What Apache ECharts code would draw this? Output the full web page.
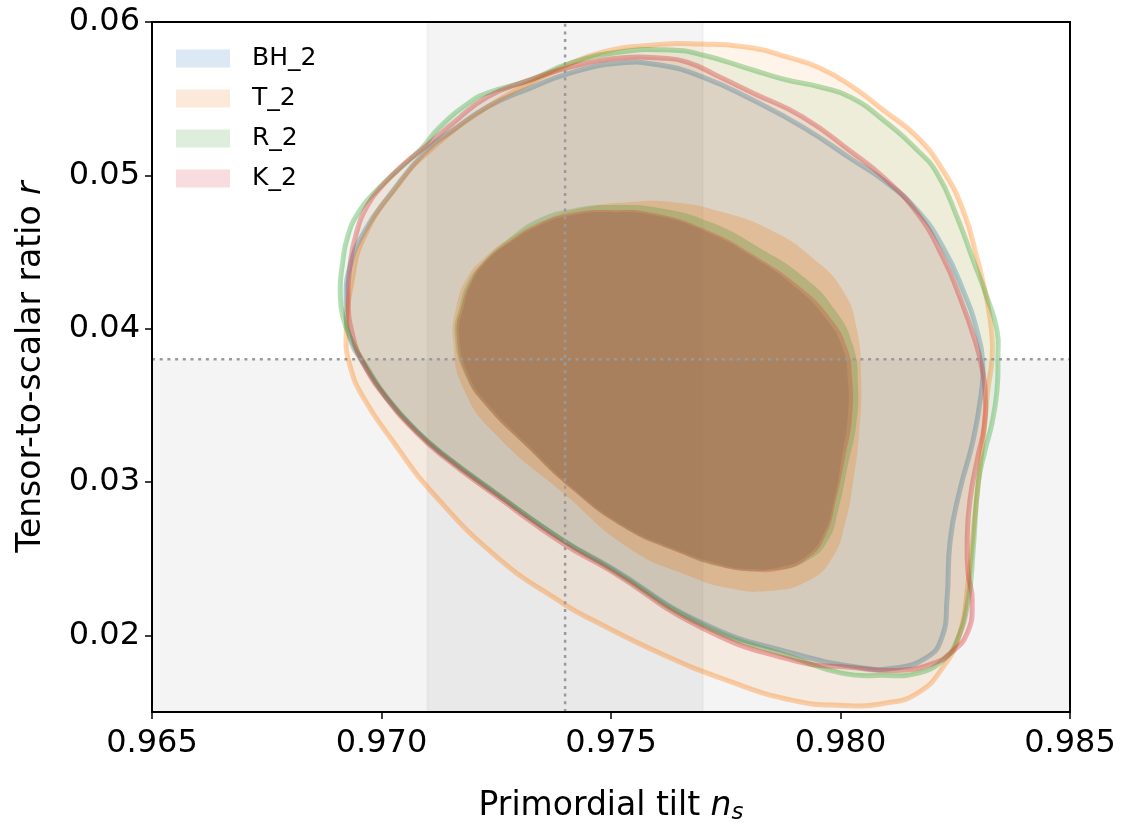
<!DOCTYPE html>
<html>
<head>
<meta charset="utf-8">
<script src="https://cdn.jsdelivr.net/npm/echarts@6/dist/echarts.min.js"></script>
<style>html,body{margin:0;padding:0;background:#fff}#c{width:1128px;height:828px}</style>
</head>
<body>
<div id="c"></div>
<script>
// ---- data ----
const xTicks = [0.965, 0.970, 0.975, 0.980, 0.985];
const yTicks = [0.02, 0.03, 0.04, 0.05, 0.06];
const models = ['BH_2', 'T_2', 'R_2', 'K_2'];
const refNs = 0.974;
const refR = 0.038;
const nsBand = [0.971, 0.977];
const rBand = [0.015, 0.038];

const bh2Outer = [[0.96923,0.04186],[0.96931,0.04401],[0.96962,0.04630],[0.97020,0.04880],[0.97099,0.05165],[0.97156,0.05295],[0.97230,0.05445],[0.97324,0.05569],[0.97411,0.05667],[0.97520,0.05732],[0.97607,0.05719],[0.97700,0.05641],[0.97809,0.05491],[0.97918,0.05315],[0.98027,0.05100],[0.98093,0.04969],[0.98167,0.04773],[0.98223,0.04532],[0.98267,0.04251],[0.98297,0.03990],[0.98310,0.03762],[0.98306,0.03566],[0.98289,0.03272],[0.98260,0.02946],[0.98239,0.02620],[0.98232,0.02228],[0.98221,0.01987],[0.98188,0.01856],[0.98114,0.01785],[0.98042,0.01791],[0.97896,0.01883],[0.97700,0.02078],[0.97498,0.02444],[0.97395,0.02620],[0.97252,0.02920],[0.97134,0.03181],[0.97077,0.03331],[0.97012,0.03547],[0.96960,0.03775],[0.96931,0.03945]];
const t2Outer = [[0.96923,0.03958],[0.96936,0.04316],[0.96964,0.04610],[0.97036,0.04936],[0.97106,0.05165],[0.97230,0.05445],[0.97324,0.05602],[0.97395,0.05706],[0.97483,0.05804],[0.97592,0.05850],[0.97700,0.05856],[0.97809,0.05830],[0.97883,0.05772],[0.97955,0.05700],[0.98027,0.05576],[0.98093,0.05426],[0.98167,0.05250],[0.98223,0.05034],[0.98267,0.04773],[0.98297,0.04467],[0.98319,0.04186],[0.98330,0.03958],[0.98330,0.03794],[0.98321,0.03599],[0.98315,0.03403],[0.98304,0.03096],[0.98289,0.02666],[0.98278,0.02339],[0.98260,0.02013],[0.98223,0.01791],[0.98167,0.01622],[0.98093,0.01556],[0.98005,0.01543],[0.97896,0.01576],[0.97753,0.01706],[0.97607,0.01883],[0.97461,0.02098],[0.97395,0.02209],[0.97252,0.02509],[0.97106,0.02946],[0.97034,0.03227],[0.96960,0.03553],[0.96931,0.03762]];
const r2Outer = [[0.96910,0.04251],[0.96914,0.04401],[0.96927,0.04610],[0.96953,0.04773],[0.96990,0.04904],[0.97036,0.05034],[0.97084,0.05165],[0.97127,0.05315],[0.97193,0.05478],[0.97230,0.05537],[0.97324,0.05622],[0.97411,0.05732],[0.97520,0.05804],[0.97629,0.05817],[0.97700,0.05785],[0.97809,0.05687],[0.97883,0.05622],[0.97955,0.05576],[0.98021,0.05511],[0.98093,0.05361],[0.98167,0.05165],[0.98210,0.05015],[0.98254,0.04728],[0.98289,0.04447],[0.98319,0.04206],[0.98341,0.03990],[0.98343,0.03814],[0.98341,0.03599],[0.98330,0.03383],[0.98315,0.03207],[0.98300,0.02992],[0.98289,0.02555],[0.98278,0.02228],[0.98254,0.01967],[0.98223,0.01837],[0.98167,0.01752],[0.98093,0.01739],[0.98005,0.01752],[0.97896,0.01856],[0.97700,0.02065],[0.97498,0.02437],[0.97395,0.02620],[0.97252,0.02920],[0.97134,0.03181],[0.97077,0.03331],[0.97012,0.03547],[0.96968,0.03749],[0.96938,0.03905],[0.96916,0.04075]];
const k2Outer = [[0.96927,0.04186],[0.96931,0.04401],[0.96944,0.04610],[0.96970,0.04806],[0.97007,0.04949],[0.97051,0.05080],[0.97095,0.05185],[0.97156,0.05341],[0.97230,0.05511],[0.97324,0.05622],[0.97411,0.05706],[0.97520,0.05765],[0.97607,0.05765],[0.97666,0.05739],[0.97737,0.05641],[0.97809,0.05537],[0.97918,0.05380],[0.98027,0.05145],[0.98093,0.04989],[0.98167,0.04754],[0.98223,0.04467],[0.98260,0.04206],[0.98293,0.03925],[0.98308,0.03749],[0.98315,0.03599],[0.98313,0.03360],[0.98300,0.03175],[0.98282,0.02881],[0.98276,0.02620],[0.98278,0.02405],[0.98287,0.02228],[0.98276,0.02013],[0.98239,0.01883],[0.98202,0.01817],[0.98130,0.01772],[0.98021,0.01791],[0.97896,0.01837],[0.97700,0.02046],[0.97498,0.02424],[0.97395,0.02600],[0.97252,0.02905],[0.97134,0.03168],[0.97077,0.03320],[0.97012,0.03540],[0.96960,0.03775],[0.96936,0.03971]];

const bh2Inner = [[0.97169,0.03958],[0.97180,0.04153],[0.97197,0.04303],[0.97225,0.04427],[0.97278,0.04558],[0.97345,0.04675],[0.97417,0.04741],[0.97504,0.04760],[0.97592,0.04741],[0.97705,0.04636],[0.97814,0.04460],[0.97905,0.04264],[0.97968,0.04068],[0.98005,0.03873],[0.98016,0.03677],[0.98016,0.03423],[0.98003,0.03162],[0.97986,0.02881],[0.97964,0.02666],[0.97925,0.02515],[0.97868,0.02444],[0.97803,0.02431],[0.97744,0.02457],[0.97635,0.02568],[0.97526,0.02718],[0.97417,0.02959],[0.97313,0.03259],[0.97234,0.03501],[0.97191,0.03690]];
const t2Inner = [[0.97156,0.03925],[0.97164,0.04153],[0.97186,0.04330],[0.97223,0.04460],[0.97280,0.04590],[0.97356,0.04710],[0.97443,0.04790],[0.97541,0.04825],[0.97635,0.04825],[0.97737,0.04765],[0.97850,0.04640],[0.97940,0.04460],[0.98005,0.04251],[0.98036,0.03990],[0.98045,0.03664],[0.98041,0.03338],[0.98028,0.03011],[0.98010,0.02730],[0.97982,0.02505],[0.97932,0.02360],[0.97846,0.02290],[0.97753,0.02310],[0.97672,0.02385],[0.97541,0.02565],[0.97395,0.02930],[0.97252,0.03300],[0.97180,0.03599]];
const r2Inner = [[0.97160,0.03958],[0.97171,0.04153],[0.97188,0.04303],[0.97221,0.04434],[0.97273,0.04577],[0.97345,0.04721],[0.97422,0.04786],[0.97504,0.04806],[0.97607,0.04786],[0.97716,0.04695],[0.97825,0.04525],[0.97923,0.04330],[0.97988,0.04121],[0.98027,0.03892],[0.98038,0.03631],[0.98034,0.03370],[0.98016,0.03109],[0.97995,0.02816],[0.97973,0.02620],[0.97929,0.02489],[0.97857,0.02424],[0.97744,0.02444],[0.97635,0.02555],[0.97526,0.02705],[0.97417,0.02946],[0.97308,0.03253],[0.97230,0.03488],[0.97182,0.03697]];
const k2Inner = [[0.97164,0.03958],[0.97175,0.04153],[0.97193,0.04303],[0.97221,0.04427],[0.97273,0.04558],[0.97345,0.04688],[0.97417,0.04754],[0.97504,0.04773],[0.97592,0.04754],[0.97709,0.04643],[0.97818,0.04467],[0.97912,0.04271],[0.97977,0.04075],[0.98014,0.03879],[0.98025,0.03684],[0.98025,0.03423],[0.98010,0.03162],[0.97990,0.02881],[0.97968,0.02653],[0.97929,0.02502],[0.97868,0.02424],[0.97803,0.02418],[0.97744,0.02444],[0.97635,0.02555],[0.97526,0.02705],[0.97417,0.02946],[0.97308,0.03253],[0.97230,0.03488],[0.97186,0.03684]];

const outers = [bh2Outer, t2Outer, r2Outer, k2Outer];
const inners = [bh2Inner, t2Inner, r2Inner, k2Inner];

// ---- styles ----
const baseRGB = [[31,119,180],[255,127,14],[44,160,44],[214,39,40]];
const legendColors = ['#dce9f4', '#fde9d9', '#deeedd', '#f8dcdf'];
const aOuterList = [0.075, 0.085, 0.08, 0.09];
const aInner = 0.25, aLine = 0.34;
const SMOOTH = 0.5;
const rgba = (c, a) => 'rgba(' + c[0] + ',' + c[1] + ',' + c[2] + ',' + a + ')';
const FONT = 'DejaVu Sans';

const chart = echarts.init(document.getElementById('c'), null, {renderer: 'canvas'});

const bandSeries = {
  type: 'custom', name: 'bands', coordinateSystem: 'cartesian2d', silent: true, z: 1,
  data: [[nsBand[0], nsBand[1], rBand[0], 0.06], [0.965, 0.985, rBand[0], rBand[1]]],
  renderItem: (p, api) => {
    const a = api.coord([api.value(0), api.value(3)]);
    const b = api.coord([api.value(1), api.value(2)]);
    return {type: 'rect', shape: {x: a[0], y: a[1], width: b[0] - a[0], height: b[1] - a[1]},
      style: {fill: 'rgba(0,0,0,0.045)', stroke: p.dataIndex === 0 ? 'rgba(0,0,0,0.035)' : null, lineWidth: 2}};
  }
};

const contourSeries = models.map((name, i) => ({
  type: 'custom', name, coordinateSystem: 'cartesian2d', silent: true, z: 2 + i,
  data: outers[i],
  renderItem: (p, api) => {
    if (p.dataIndex !== 0) return null;
    const o = outers[i].map(q => api.coord(q));
    const n = inners[i].map(q => api.coord(q));
    const c = baseRGB[i];
    return {type: 'group', children: [
      {type: 'polygon', shape: {points: o, smooth: SMOOTH}, style: {fill: rgba(c, aOuterList[i])}},
      {type: 'polygon', shape: {points: n, smooth: SMOOTH}, style: {fill: rgba(c, aInner)}},
      {type: 'polygon', shape: {points: o, smooth: SMOOTH}, style: {fill: 'none', stroke: rgba(c, aLine), lineWidth: 5}}
    ]};
  }
}));

const refSeries = {
  type: 'custom', name: 'ref', coordinateSystem: 'cartesian2d', silent: true, z: 20,
  data: [[refNs, 0.015, refNs, 0.06], [0.965, refR, 0.985, refR]],
  renderItem: (p, api) => {
    const a = api.coord([api.value(0), api.value(1)]);
    const b = api.coord([api.value(2), api.value(3)]);
    return {type: 'line', shape: {x1: a[0], y1: a[1], x2: b[0], y2: b[1]},
      style: {stroke: '#9a9a9a', lineWidth: 2.5, lineDash: [3, 4.7]}};
  }
};

const option = {
  animation: false,
  backgroundColor: '#fff',
  grid: {left: 152, right: 58, top: 22, bottom: 116, show: true, borderColor: '#000', borderWidth: 2,
    backgroundColor: 'transparent', z: 30, containLabel: false, outerBoundsMode: 'none'},
  legend: {
    orient: 'vertical', left: 176, top: 46, padding: 0,
    itemWidth: 54, itemHeight: 18, itemGap: 15, selectedMode: false, icon: 'rect',
    data: models.map((m, i) => ({name: m, itemStyle: {color: legendColors[i], borderWidth: 0}})),
    textStyle: {fontFamily: FONT, fontSize: 25, color: '#000', padding: [0, 0, 0, 17]}
  },
  xAxis: {
    type: 'value', min: 0.965, max: 0.985, z: 31,
    name: '{a|Primordial tilt }{i|n}{s|s}', nameLocation: 'middle', nameGap: 76,
    nameTextStyle: {rich: {
      a: {fontFamily: FONT, fontSize: 33, color: '#000'},
      i: {fontFamily: FONT, fontSize: 33, fontStyle: 'italic', color: '#000'},
      s: {fontFamily: FONT, fontSize: 23, fontStyle: 'italic', color: '#000', padding: [14, 0, 0, 0]}
    }},
    axisLine: {show: true, onZero: false, lineStyle: {color: '#000', width: 2}},
    axisTick: {show: true, length: 7, lineStyle: {color: '#000', width: 1.5}, customValues: xTicks},
    axisLabel: {fontFamily: FONT, fontSize: 32, color: '#000', margin: 16, customValues: xTicks,
      formatter: v => v.toFixed(3)},
    splitLine: {show: false}
  },
  yAxis: {
    type: 'value', min: 0.015, max: 0.06, z: 31,
    name: '{a|Tensor-to-scalar ratio }{i|r}', nameLocation: 'middle', nameGap: 104, nameRotate: 90,
    nameTextStyle: {rich: {
      a: {fontFamily: FONT, fontSize: 33, color: '#000'},
      i: {fontFamily: FONT, fontSize: 33, fontStyle: 'italic', color: '#000'}
    }},
    axisLine: {show: true, onZero: false, lineStyle: {color: '#000', width: 2}},
    axisTick: {show: true, length: 7, lineStyle: {color: '#000', width: 1.5}, customValues: yTicks},
    axisLabel: {fontFamily: FONT, fontSize: 32, color: '#000', margin: 12, customValues: yTicks,
      formatter: v => v.toFixed(2)},
    splitLine: {show: false}
  },
  series: [bandSeries].concat(contourSeries, [refSeries])
};
chart.setOption(option);
</script>
</body>
</html>
